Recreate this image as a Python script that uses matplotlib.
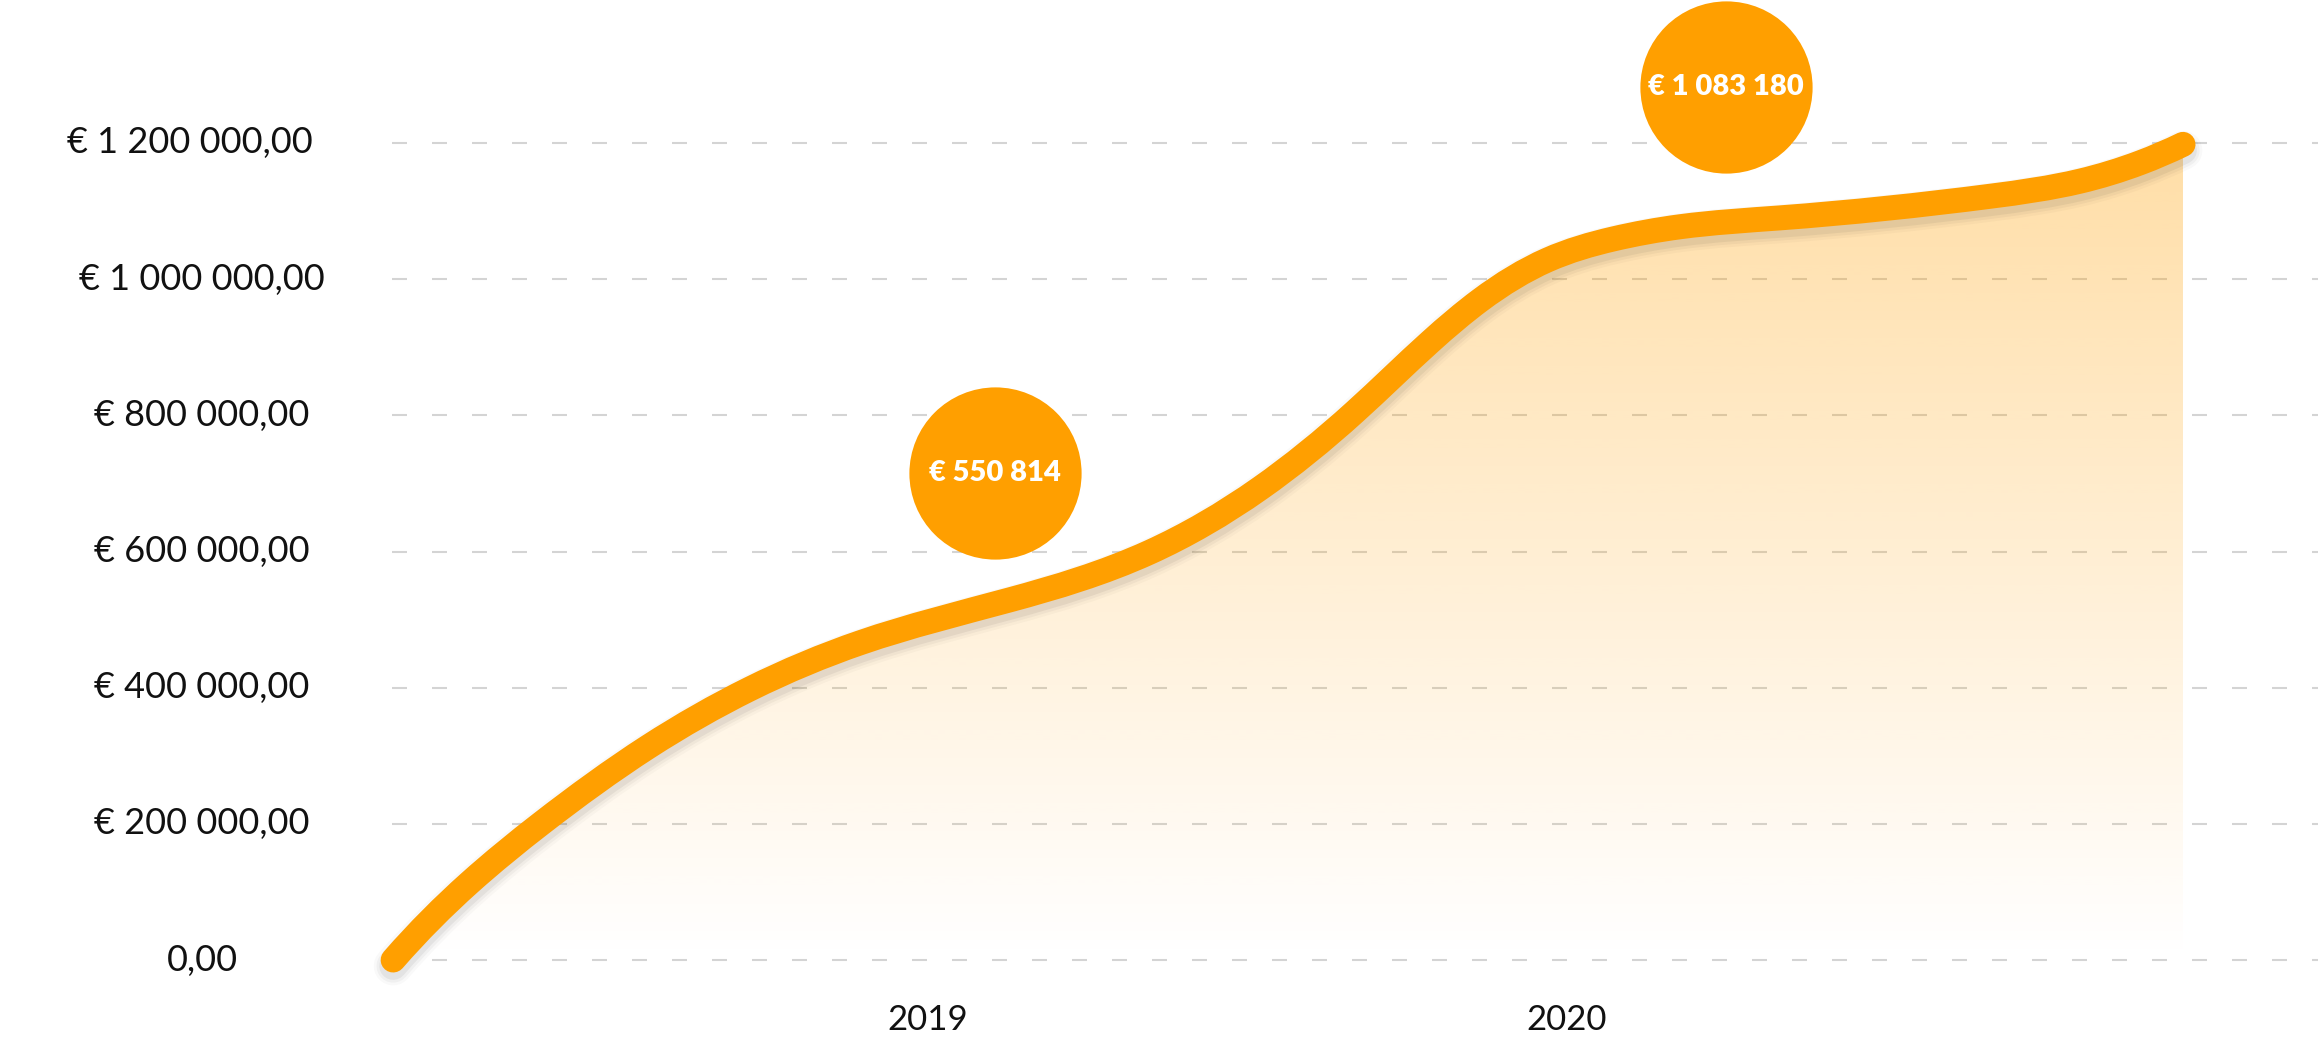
import numpy as np
import matplotlib
matplotlib.use("Agg")
import matplotlib.pyplot as plt
from matplotlib.path import Path
from matplotlib.patches import PathPatch
from matplotlib import transforms

W, H, DPI = 2318, 1047, 100
ORANGE = "#FF9F00"

# values (fractional year, cumulative total in euro)
years = [2018.163, 2018.282, 2018.394, 2018.562, 2018.721, 2018.894, 2019.128,
         2019.347, 2019.520, 2019.668, 2019.786, 2019.864, 2019.969, 2020.072,
         2020.177, 2020.333, 2020.664, 2020.803, 2020.897, 2020.964]
totals = [0, 113000, 200000, 313000, 398000, 466000, 529000,
          599000, 693000, 805000, 908000, 969000, 1028000, 1059000,
          1077000, 1090000, 1122000, 1144000, 1171000, 1198000]

bubble_years = [2019.105, 2020.249]
bubble_values = [550814, 1083180]
bubble_labels = ["€ 550 814", "€ 1 083 180"]

y_ticks = [0, 200000, 400000, 600000, 800000, 1000000, 1200000]
y_labels = ["0,00", "€ 200 000,00", "€ 400 000,00", "€ 600 000,00",
            "€ 800 000,00", "€ 1 000 000,00", "€ 1 200 000,00"]
x_ticks = [2019, 2020]
x_labels = ["2019", "2020"]


def spline_slopes(x, y):
    # cubic spline with not-a-knot ends, returns the slope at every node
    n = len(x)
    h = np.diff(x)
    d = np.diff(y) / h
    A = np.zeros((n, n))
    b = np.zeros(n)
    A[0, :3] = [h[1], -(h[0] + h[1]), h[0]]
    A[-1, -3:] = [h[-1], -(h[-2] + h[-1]), h[-2]]
    for i in range(1, n - 1):
        A[i, i - 1] = h[i - 1]
        A[i, i] = 2 * (h[i - 1] + h[i])
        A[i, i + 1] = h[i]
        b[i] = 6 * (d[i] - d[i - 1])
    M = np.linalg.solve(A, b)
    m = np.zeros(n)
    m[:-1] = d - h * (2 * M[:-1] + M[1:]) / 6
    m[-1] = d[-1] + h[-1] * (M[-2] + 2 * M[-1]) / 6
    return m


def smooth_path(x, y):
    x = np.asarray(x, float)
    y = np.asarray(y, float)
    m = spline_slopes(x, y)
    verts = [(x[0], y[0])]
    codes = [Path.MOVETO]
    for k in range(len(x) - 1):
        h = x[k + 1] - x[k]
        verts += [(x[k] + h / 3, y[k] + m[k] * h / 3),
                  (x[k + 1] - h / 3, y[k + 1] - m[k + 1] * h / 3),
                  (x[k + 1], y[k + 1])]
        codes += [Path.CURVE4] * 3
    return verts, codes


plt.rcParams["font.family"] = ["Lato", "DejaVu Sans"]
plt.rcParams["lines.scale_dashes"] = False

fig = plt.figure(figsize=(W / DPI, H / DPI), dpi=DPI)
fig.patch.set_facecolor("white")
ax = fig.add_axes([392 / W, (H - 960) / H, (W - 392) / W, 960 / H])
ax.set_xlim(2018.1612, 2018.1612 + (W - 392) / 639)
ax.set_ylim(0, 1200000 * 960 / (960 - 143))
for s in ax.spines.values():
    s.set_visible(False)
ax.set_yticks([])

ax.set_xticks(x_ticks)
ax.set_xticklabels(x_labels, fontsize=25, color="#111111")
ax.tick_params(axis="x", length=0, pad=32)

# dashed grid
for v in y_ticks:
    ax.axhline(v, color="#D4D4D4", lw=1.5, linestyle=(0, (10.8, 18)),
               zorder=0, clip_on=False)

# y labels, centred in the left margin
ytrans = transforms.blended_transform_factory(fig.transFigure, ax.transData)
for v, lab in zip(y_ticks, y_labels):
    cx = 190 if v == 1200000 else 202
    ax.text(cx / W, v, lab, transform=ytrans, ha="center", va="center",
            fontsize=26, color="#111111")

verts, codes = smooth_path(years, totals)

# gradient area under the line
area = PathPatch(Path(verts + [(years[-1], 0), (years[0], 0), (years[0], 0)],
                      codes + [Path.LINETO, Path.LINETO, Path.CLOSEPOLY]),
                 facecolor="none", edgecolor="none")
ax.add_patch(area)
grad = np.zeros((256, 1, 4))
grad[:, 0, 0] = 1.0
grad[:, 0, 1] = 160 / 255
grad[:, 0, 2] = 0.0
grad[:, 0, 3] = np.linspace(0, 0.35, 256)
im = ax.imshow(grad, extent=[years[0], years[-1], 0, 1200000], origin="lower",
               aspect="auto", zorder=1, interpolation="bilinear")
im.set_clip_path(area)

# soft shadow under the line
line_path = Path(verts, codes)
shift = ax.transData + transforms.ScaledTranslation(0, -6 / DPI, fig.dpi_scale_trans)
for w, a in [(20, 0.05), (24, 0.035), (28, 0.025)]:
    ax.add_patch(PathPatch(line_path, facecolor="none", edgecolor="black", lw=w,
                           alpha=a, capstyle="round", joinstyle="round",
                           transform=shift, zorder=2, clip_on=False))

ax.add_patch(PathPatch(line_path, facecolor="none", edgecolor=ORANGE, lw=18,
                       capstyle="round", joinstyle="round", zorder=3, clip_on=False))

# value bubbles above the points
for bx, bv, lab, up in zip(bubble_years, bubble_values, bubble_labels, [112, 136]):
    tr = ax.transData + transforms.ScaledTranslation(0, up / DPI, fig.dpi_scale_trans)
    ax.plot([bx], [bv], "o", ms=124, color=ORANGE, mec="none", transform=tr,
            zorder=4, clip_on=False)
    ax.text(bx, bv, lab, transform=tr, ha="center", va="center", color="white",
            fontsize=21, fontweight="heavy", zorder=5)

fig.savefig("out.png", dpi=DPI, facecolor="white")
